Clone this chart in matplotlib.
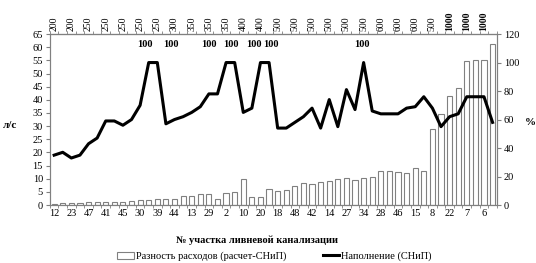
import matplotlib
matplotlib.use('Agg')
import matplotlib.pyplot as plt
import numpy as np
from matplotlib.patches import Rectangle
from matplotlib.lines import Line2D

plt.rcParams['font.family'] = ['Liberation Serif', 'DejaVu Serif']

# section numbers (every other category is labelled)
sections = ['12', '', '23', '', '47', '', '41', '', '45', '', '30', '', '39', '',
            '44', '', '13', '', '29', '', '2', '', '10', '', '20', '',
            '18', '', '48', '', '42', '', '14', '', '27', '', '34', '', '28', '',
            '46', '', '15', '', '8', '', '22', '', '7', '', '6', '']

# pipe diameters shown on top axis (for labelled sections)
diameters = ['200', '200', '250', '250', '250', '250', '250', '300', '350', '350',
             '350', '400', '400', '500', '500', '500', '500', '500', '500', '600',
             '600', '600', '500', '1000', '1000', '1000']

# flow difference (calc - SNiP), l/s
flow_diff = [0.4, 0.6, 0.9, 0.9, 1.1, 1.1, 1.3, 1.3, 1.3, 1.5,
             1.9, 1.8, 2.2, 2.3, 2.3, 3.6, 3.6, 4.1, 4.1, 2.2,
             4.4, 4.8, 9.9, 2.9, 2.9, 6.0, 5.5, 5.7, 7.3, 8.5,
             8.0, 8.7, 9.0, 9.8, 10.4, 9.5, 10.4, 10.8, 13.0, 13.0,
             12.5, 12.0, 14.0, 13.1, 28.9, 34.7, 41.6, 44.5, 54.7, 55.0,
             55.0, 61.1]

# filling (SNiP), %
filling = [35, 37, 33, 35, 43, 47, 59, 59, 56, 60,
           70, 100, 100, 57, 60, 62, 65, 69, 78, 78,
           100, 100, 65, 68, 100, 100, 54, 54, 58, 62,
           68, 54, 74, 55, 81, 67, 100, 66, 64, 64,
           64, 68, 69, 76, 68, 55, 62, 64, 76, 76,
           76, 58]

# where the "100" labels sit (index, x offset in points)
peak_labels = [(11, -3), (12, 10), (20, -12), (21, -3), (24, -5), (25, 1), (36, -1)]

x = np.arange(len(flow_diff))
grey = '#808080'

fig = plt.figure(figsize=(5.36, 2.63), dpi=100)
ax = fig.add_axes([0.093, 0.2205, 0.834, 0.650])
ax.bar(x, flow_diff, width=0.6, color='white', edgecolor=grey, linewidth=0.8, zorder=2)
ax.set_xlim(-0.5, len(x) - 0.5)
ax.set_ylim(0, 65)
ax.set_yticks(np.arange(0, 66, 5))
ax.set_xticks(x[::2], [s for s in sections[::2]])
ax.set_xticks(np.arange(-0.5, len(x), 1), minor=True)
ax.tick_params(axis='x', which='major', length=0, labelsize=7.5, pad=3)
ax.tick_params(axis='x', which='minor', length=2, color=grey)
ax.tick_params(axis='y', labelsize=7.5, length=3, color=grey, pad=2)
for s in ax.spines.values():
    s.set_color(grey)
    s.set_linewidth(0.8)

top = ax.secondary_xaxis('top')
top.set_xticks(x[::2], diameters)
top.set_xticks(np.arange(-0.5, len(x), 1), minor=True)
top.tick_params(axis='x', which='major', length=0, labelsize=7, rotation=90, pad=2)
top.tick_params(axis='x', which='minor', length=2, color=grey)
top.spines['top'].set_color(grey)
for lab in top.get_xticklabels():
    if lab.get_text() == '1000':
        lab.set_fontweight('bold')

ax2 = ax.twinx()
ax2.plot(x, filling, color='black', linewidth=2.2, zorder=3)
ax2.set_ylim(0, 120)
ax2.set_yticks(np.arange(0, 121, 20))
ax2.tick_params(axis='y', labelsize=7.5, length=3, color=grey, pad=2)
for s in ax2.spines.values():
    s.set_color(grey)
    s.set_linewidth(0.8)

for i, dx in peak_labels:
    ax2.annotate('100', (x[i], filling[i]), xytext=(dx, 10), textcoords='offset points',
                 ha='center', va='bottom', fontsize=7.5, fontweight='bold')

fig.text(0.019, 0.521, 'л/с', fontsize=8, fontweight='bold', ha='center', va='center')
fig.text(0.989, 0.536, '%', fontsize=8, fontweight='bold', ha='center', va='center')
fig.text(0.48, 0.087, '№ участка ливневой канализации', fontsize=7.5,
         fontweight='bold', ha='center', va='center')

handles = [Rectangle((0, 0), 1, 1, facecolor='white', edgecolor=grey, linewidth=0.8),
           Line2D([], [], color='black', linewidth=2.2)]
fig.legend(handles, ['Разность расходов (расчет-СНиП)', 'Наполнение (СНиП)'],
           loc='center', bbox_to_anchor=(0.512, 0.025), ncol=2, frameon=False,
           fontsize=7.5, handlelength=1.6, handletextpad=0.2, columnspacing=3.5)

fig.savefig('out.png', dpi=100)
